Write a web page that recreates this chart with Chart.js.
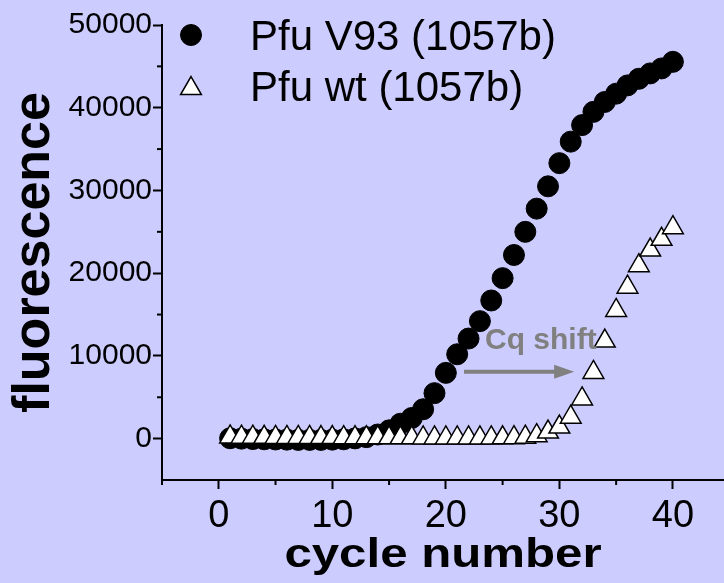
<!DOCTYPE html>
<html>
<head>
<meta charset="utf-8">
<script src="https://cdn.jsdelivr.net/npm/chart.js@4.4.1/dist/chart.umd.min.js"></script>
<style>
  html, body { margin: 0; padding: 0; background: #ccccff; }
</style>
</head>
<body>
<canvas id="myChart" width="724" height="583"></canvas>
<script>
// qPCR curves, one point per cycle
const cycles = [1,2,3,4,5,6,7,8,9,10,11,12,13,14,15,16,17,18,19,20,
                21,22,23,24,25,26,27,28,29,30,31,32,33,34,35,36,37,38,39,40];
const fluorV93 = [50,0,-50,-80,-100,-120,-150,-150,-150,-120,
                  -80,30,180,500,1000,1800,2500,3550,5500,7950,
                  10200,12100,14200,16700,19400,22200,25000,27800,30500,33300,
                  35900,37900,39500,40700,41700,42700,43500,44150,44750,45550];
const fluorWt = [200,180,170,160,150,150,140,140,130,130,
                 120,120,110,110,100,100,100,90,90,90,
                 80,80,80,90,100,120,180,350,800,1400,
                 2600,4800,8000,11800,15500,18300,20900,22800,24100,25500];
const seriesNames = ['Pfu V93 (1057b)', 'Pfu wt (1057b)'];
const xTicks = [0, 10, 20, 30, 40];
const yTicks = [0, 10000, 20000, 30000, 40000, 50000];
const xTitle = 'cycle number';
// arrow between the two curves at the threshold level
const shiftFrom = 21.6, shiftTo = 31.3, shiftLevel = 8100;
const shiftText = 'Cq shift';

const FONT = "'Liberation Sans', Arial, sans-serif";

function points(ys) {
    return cycles.map((c, i) => ({x: c, y: ys[i]}));
}

// short ticks between the labelled ones
const minorTicks = {
    id: 'minorTicks',
    afterDraw(chart) {
        const ctx = chart.ctx, sx = chart.scales.x, sy = chart.scales.y;
        ctx.save();
        ctx.strokeStyle = '#000';
        ctx.lineWidth = 2;
        sx.ticks.forEach(t => {
            if (xTicks.indexOf(t.value) < 0) {
                const px = sx.getPixelForValue(t.value);
                ctx.beginPath(); ctx.moveTo(px, sx.top); ctx.lineTo(px, sx.top + 5); ctx.stroke();
            }
        });
        sy.ticks.forEach(t => {
            if (yTicks.indexOf(t.value) < 0 && t.value > sy.min) {
                const py = sy.getPixelForValue(t.value);
                ctx.beginPath(); ctx.moveTo(sy.right, py); ctx.lineTo(sy.right - 5, py); ctx.stroke();
            }
        });
        ctx.restore();
    }
};

// wide bold title under the x axis
const wideTitle = {
    id: 'wideTitle',
    afterDraw(chart) {
        const ctx = chart.ctx, sx = chart.scales.x;
        ctx.save();
        ctx.translate((sx.left + sx.right) / 2, sx.bottom - 16);
        ctx.scale(1.23, 1);
        ctx.fillStyle = '#000';
        ctx.font = 'bold 40px ' + FONT;
        ctx.textAlign = 'center';
        ctx.textBaseline = 'alphabetic';
        ctx.fillText(xTitle, 0, 0);
        ctx.restore();
    }
};

const shiftArrow = {
    id: 'shiftArrow',
    afterDatasetsDraw(chart) {
        const ctx = chart.ctx, sx = chart.scales.x, sy = chart.scales.y;
        const x1 = sx.getPixelForValue(shiftFrom), x2 = sx.getPixelForValue(shiftTo);
        const y = sy.getPixelForValue(shiftLevel);
        ctx.save();
        ctx.strokeStyle = '#808080';
        ctx.fillStyle = '#808080';
        ctx.lineWidth = 4;
        ctx.beginPath(); ctx.moveTo(x1, y); ctx.lineTo(x2 - 16, y); ctx.stroke();
        ctx.beginPath();
        ctx.moveTo(x2, y); ctx.lineTo(x2 - 20, y - 7); ctx.lineTo(x2 - 20, y + 7);
        ctx.closePath(); ctx.fill();
        ctx.font = 'bold 30px ' + FONT;
        ctx.textAlign = 'left';
        ctx.textBaseline = 'alphabetic';
        ctx.fillText(shiftText, x1 + 21, y - 23);
        ctx.restore();
    }
};

const legendBox = {
    id: 'legendBox',
    afterDatasetsDraw(chart) {
        const ctx = chart.ctx, area = chart.chartArea;
        const mx = area.left + 29, tx = area.left + 88;
        ctx.save();
        ctx.fillStyle = '#000';
        ctx.strokeStyle = '#000';
        ctx.lineWidth = 1;
        Chart.helpers.drawPoint(ctx, {pointStyle: 'circle', radius: 10.5, borderWidth: 1}, mx, area.top + 10);
        ctx.fillStyle = '#fff';
        ctx.lineWidth = 1.5;
        Chart.helpers.drawPoint(ctx, {pointStyle: 'triangle', radius: 12, borderWidth: 1.5}, mx, area.top + 63.5);
        ctx.fillStyle = '#000';
        ctx.font = '42px ' + FONT;
        ctx.textAlign = 'left';
        ctx.textBaseline = 'alphabetic';
        ctx.fillText(seriesNames[0], tx, area.top + 24.5);
        ctx.fillText(seriesNames[1], tx, area.top + 76);
        ctx.restore();
    }
};

const ctx = document.getElementById('myChart');
const myChart = new Chart(ctx, {
    type: 'scatter',
    data: {
        datasets: [
            {
                label: seriesNames[1],
                data: points(fluorWt),
                pointStyle: 'triangle',
                pointRadius: 12,
                pointHoverRadius: 12,
                backgroundColor: '#ffffff',
                borderColor: '#000000',
                borderWidth: 1.5,
                order: 0
            },
            {
                label: seriesNames[0],
                data: points(fluorV93),
                pointStyle: 'circle',
                pointRadius: 10.5,
                pointHoverRadius: 10.5,
                backgroundColor: '#000000',
                borderColor: '#000000',
                borderWidth: 1,
                order: 1
            }
        ]
    },
    options: {
        responsive: false,
        animation: false,
        events: [],
        layout: { autoPadding: false, padding: { top: 25, right: 0, bottom: 0, left: 0 } },
        plugins: {
            legend: { display: false },
            tooltip: { enabled: false }
        },
        scales: {
            x: {
                type: 'linear',
                min: -5,
                max: 44.5,
                afterFit: s => { s.height = 103; s.paddingRight = 0; s.paddingLeft = 0; },
                border: { display: true, color: '#000', width: 2 },
                grid: {
                    drawOnChartArea: false,
                    drawTicks: true,
                    tickLength: 9,
                    tickWidth: 2,
                    tickColor: c => xTicks.indexOf(c.tick.value) >= 0 ? '#000' : 'rgba(0,0,0,0)'
                },
                ticks: {
                    stepSize: 5,
                    includeBounds: false,
                    maxRotation: 0,
                    autoSkip: false,
                    padding: 5,
                    color: '#000',
                    font: { family: FONT, size: 38 },
                    callback: v => xTicks.indexOf(v) >= 0 ? String(v) : ''
                },
                title: { display: false }
            },
            y: {
                type: 'linear',
                min: -5000,
                max: 50000,
                afterFit: s => { s.width = 162; s.paddingTop = 0; s.paddingBottom = 0; },
                border: { display: true, color: '#000', width: 2 },
                grid: {
                    drawOnChartArea: false,
                    drawTicks: true,
                    tickLength: 9,
                    tickWidth: 2,
                    tickColor: c => yTicks.indexOf(c.tick.value) >= 0 ? '#000' : 'rgba(0,0,0,0)'
                },
                ticks: {
                    stepSize: 5000,
                    includeBounds: false,
                    autoSkip: false,
                    padding: 1,
                    color: '#000',
                    font: { family: FONT, size: 30 },
                    callback: v => yTicks.indexOf(v) >= 0 ? String(v) : ''
                },
                title: {
                    display: true,
                    text: 'fluorescence',
                    color: '#000',
                    font: { family: FONT, size: 52, weight: 'bold', lineHeight: 1 },
                    padding: { top: 9, bottom: 0 }
                }
            }
        }
    },
    plugins: [minorTicks, wideTitle, shiftArrow, legendBox]
});
</script>
</body>
</html>
